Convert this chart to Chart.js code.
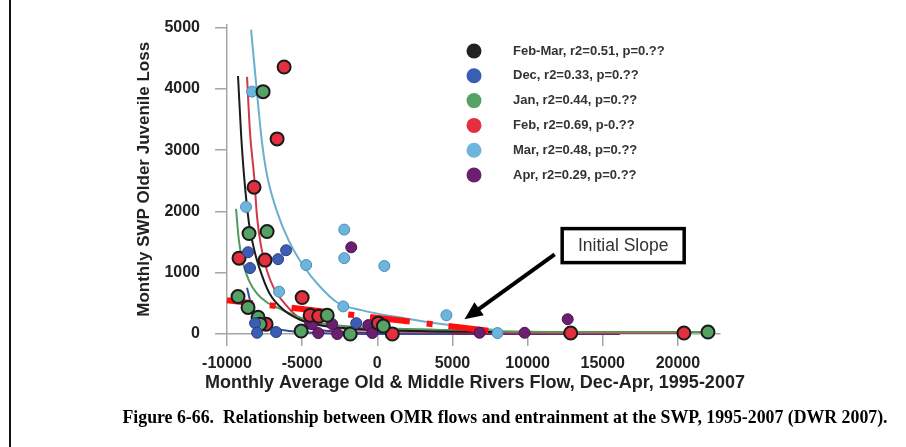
<!DOCTYPE html>
<html>
<head>
<meta charset="utf-8">
<script src="https://cdn.jsdelivr.net/npm/chart.js@4.4.1/dist/chart.umd.min.js"></script>
<style>
html, body { margin: 0; padding: 0; background: #fff; }
</style>
</head>
<body>
<canvas id="omrChart" width="906" height="447"></canvas>
<script>
// legend rows (order as in the figure)
const seriesNames = ['Feb-Mar, r2=0.51, p=0.??', 'Dec, r2=0.33, p=0.??', 'Jan, r2=0.44, p=0.??',
                     'Feb, r2=0.69, p-0.??', 'Mar, r2=0.48, p=0.??', 'Apr, r2=0.29, p=0.??'];
const seriesColors = ['#222222', '#3b5db3', '#55a264', '#e2303f', '#6db5dd', '#6a206e'];

// axis ticks
const xTicks = [-10000, -5000, 0, 5000, 10000, 15000, 20000];
const yTicks = [0, 1000, 2000, 3000, 4000, 5000];

// monthly points  [OMR flow, loss]
const decPts = [[-8600,1335],[-8467,1077],[-6600,1222],[-6067,1367],[-8133,177],[-8000,20],[-6733,32],[-1400,177]];
const janPts = [[-7600,3956],[-8533,1640],[-7333,1672],[-9267,611],[-8600,434],[-7933,273],[-7800,161],
                [-5067,48],[-3333,306],[-1800,0],[400,129],[22000,32]];
const febPts = [[-6200,4358],[-6667,3184],[-8200,2396],[-9200,1238],[-7467,1206],[-7400,161],[-5000,595],
                [-4467,306],[-3900,290],[67,177],[1000,0],[12867,16],[20400,16]];
const marPts = [[-8333,3956],[-8733,2074],[-4733,1126],[-6533,691],[-2200,1704],[-2200,1238],[467,1110],
                [-2267,450],[4600,306],[8000,16]];
const aprPts = [[-1733,1415],[-4467,177],[-4333,161],[-3933,16],[-3000,161],[-600,145],[-333,16],[-2667,0],
                [6800,20],[9800,20],[12667,241]];

// fitted curves
const febMarFit = [[-9267,4212],[-9067,3280],[-8867,2588],[-8533,1801],[-8133,1318],[-7733,997],[-7200,675],
                   [-6200,386],[-5067,225],[-3533,129],[-1200,80],[2800,48],[8133,32]];
const decFit = [[-8667,756],[-8467,547],[-8267,386],[-8000,257],[-7533,161],[-6867,96],[-5867,48],[-3867,16],[133,0],[4800,0]];
const janFit = [[-9400,2042],[-9200,1511],[-8933,1158],[-8533,868],[-8000,659],[-7333,514],[-6533,418],[-5533,305],
                [-4067,193],[-2200,129],[133,96],[4800,64],[12800,32],[22133,32]];
const febFit = [[-8667,4196],[-8467,3280],[-8200,2588],[-8000,1913],[-7733,1431],[-7333,1029],[-6867,740],[-6333,547],
                [-5333,289],[-4200,177],[-2533,96],[133,48],[4800,32],[12800,16],[20800,16]];
const marFit = [[-8400,4968],[-8000,3923],[-7667,3119],[-7333,2588],[-6667,1994],[-5867,1511],[-4867,1093],[-3867,788],
                [-2667,514],[-1000,386],[1800,257],[4800,145],[8000,64]];
const aprFit = [[-5200,113],[-3200,48],[133,16],[8133,0],[16133,0]];

// red "initial slope" line
const slopeLine = [[-10000,550],[7700,45]];

const xy = arr => arr.map(p => ({x: p[0], y: p[1]}));
const SANS = '"Liberation Sans", Arial, sans-serif';

function pointSet(data, color, edge, width, r) {
    return {
        type: 'scatter', data: xy(data), backgroundColor: color, borderColor: edge,
        borderWidth: width, pointRadius: r, pointHoverRadius: r, clip: false, order: 1
    };
}
function fitSet(data, color) {
    return {
        type: 'scatter', data: xy(data), showLine: true, borderColor: color, borderWidth: 2,
        pointRadius: 0, cubicInterpolationMode: 'monotone', fill: false, clip: false, order: 3
    };
}

const extras = {
    id: 'extras',
    afterDraw(chart) {
        const c = chart.ctx;
        const xs = chart.scales.x, ys = chart.scales.y;
        c.save();
        // left page rule
        c.fillStyle = '#111';
        c.fillRect(9, 0, 2, 447);

        // x axis title (wider than the plot, so drawn here)
        c.fillStyle = '#222';
        c.font = 'bold 18px ' + SANS;
        c.textAlign = 'center';
        c.textBaseline = 'middle';
        c.fillText('Monthly Average Old & Middle Rivers Flow, Dec-Apr, 1995-2007', 475, 383);

        // legend
        c.font = 'bold 13px ' + SANS;
        c.textAlign = 'left';
        seriesNames.forEach((name, i) => {
            const y = 51 + i * 24.8;
            c.beginPath();
            c.arc(474, y, 7.5, 0, Math.PI * 2);
            c.fillStyle = seriesColors[i];
            c.fill();
            c.fillStyle = '#333';
            c.fillText(name, 513, y);
        });

        // "Initial Slope" box and arrow
        const bx = xs.getPixelForValue(12300), by = ys.getPixelForValue(1720);
        const bw = 122, bh = 34;
        c.lineWidth = 3.5;
        c.strokeStyle = '#000';
        c.strokeRect(bx, by, bw, bh);
        c.fillStyle = '#333';
        c.font = '17.5px ' + SANS;
        c.textAlign = 'center';
        c.fillText('Initial Slope', bx + bw / 2, by + bh / 2 + 1);

        const tx = xs.getPixelForValue(11800), ty = ys.getPixelForValue(1300);
        const hx = xs.getPixelForValue(5800), hy = ys.getPixelForValue(240);
        const ang = Math.atan2(hy - ty, hx - tx);
        c.lineWidth = 4;
        c.beginPath();
        c.moveTo(tx, ty);
        c.lineTo(hx - 12 * Math.cos(ang), hy - 12 * Math.sin(ang));
        c.stroke();
        c.beginPath();
        c.moveTo(hx, hy);
        c.lineTo(hx - 18 * Math.cos(ang) + 8 * Math.sin(ang), hy - 18 * Math.sin(ang) - 8 * Math.cos(ang));
        c.lineTo(hx - 18 * Math.cos(ang) - 8 * Math.sin(ang), hy - 18 * Math.sin(ang) + 8 * Math.cos(ang));
        c.closePath();
        c.fillStyle = '#000';
        c.fill();

        // caption
        c.fillStyle = '#000';
        c.font = 'bold 17.8px "Liberation Serif", "Times New Roman", serif';
        c.textAlign = 'center';
        c.fillText('Figure 6-66.  Relationship between OMR flows and entrainment at the SWP, 1995-2007 (DWR 2007).', 505, 418);
        c.restore();
    }
};

const ctx = document.getElementById('omrChart').getContext('2d');
const chart = new Chart(ctx, {
    type: 'scatter',
    data: {
        datasets: [
            fitSet(febMarFit, '#1c1c1c'),
            fitSet(decFit, '#34509c'),
            fitSet(janFit, '#4f9a5c'),
            fitSet(febFit, '#d23848'),
            fitSet(marFit, '#6aafd0'),
            fitSet(aprFit, '#652a6c'),
            {
                type: 'scatter', data: xy(slopeLine), showLine: true, borderColor: '#ff1010', borderWidth: 6,
                borderDash: [40, 17, 6, 16], borderDashOffset: 14, pointRadius: 0, clip: false, order: 2
            },
            pointSet(decPts, seriesColors[1], '#2a3f80', 1, 5.5),
            pointSet(janPts, seriesColors[2], '#1a1a1a', 2, 6.5),
            pointSet(febPts, seriesColors[3], '#1a1a1a', 2, 6.5),
            pointSet(marPts, seriesColors[4], '#4a8fb5', 1, 5.5),
            pointSet(aprPts, seriesColors[5], '#4a1450', 1, 5.5)
        ]
    },
    options: {
        responsive: false,
        animation: false,
        devicePixelRatio: 1,
        layout: {padding: {left: 0, right: 186, top: 20, bottom: 53}},
        plugins: {legend: {display: false}, tooltip: {enabled: false}},
        scales: {
            x: {
                type: 'linear', min: -10000, max: 22800,
                afterFit: s => { s.height = 60; },
                afterBuildTicks: s => { s.ticks = xTicks.map(v => ({value: v})); },
                border: {display: true, color: '#a5a5a5', width: 1.5},
                grid: {drawOnChartArea: false, drawTicks: true, tickLength: 12, color: '#a5a5a5', lineWidth: 1.5},
                ticks: {padding: 8, color: '#222', callback: v => String(v),
                        font: {family: SANS, size: 16, weight: 'bold'}},
                title: {display: false}
            },
            y: {
                type: 'linear', min: 0, max: 5050,
                afterFit: s => { s.width = 227; },
                afterBuildTicks: s => { s.ticks = yTicks.map(v => ({value: v})); },
                border: {display: true, color: '#a5a5a5', width: 1.5},
                grid: {drawOnChartArea: false, drawTicks: true, tickLength: 12, color: '#a5a5a5', lineWidth: 1.5},
                ticks: {padding: 15, color: '#222', callback: v => String(v),
                        font: {family: SANS, size: 16, weight: 'bold'}},
                title: {display: true, text: 'Monthly SWP Older Juvenile Loss', color: '#222',
                        padding: {top: 134, bottom: 0},
                        font: {family: SANS, size: 17, weight: 'bold'}}
            }
        }
    },
    plugins: [extras]
});
</script>
</body>
</html>
